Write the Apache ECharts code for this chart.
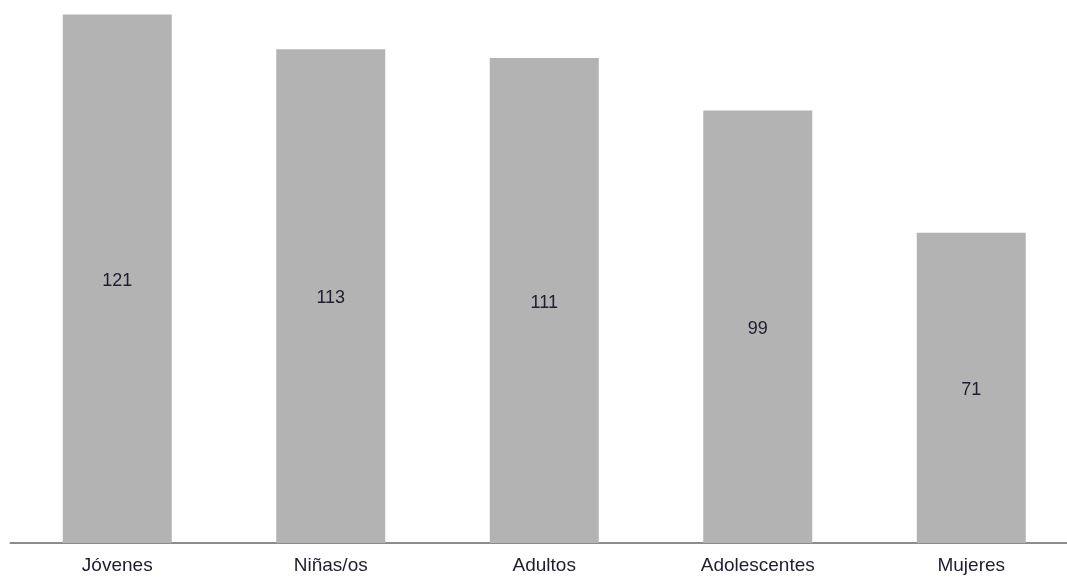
<!DOCTYPE html>
<html>
<head>
<meta charset="utf-8">
<script src="https://cdn.jsdelivr.net/npm/echarts@6/dist/echarts.min.js"></script>
<style>html,body{margin:0;padding:0;background:#fff;overflow:hidden;width:1067px;height:577px;}#c{width:1078px;height:577px;}</style>
</head>
<body>
<div id="c"></div>
<script>
const categories = ["Jóvenes", "Niñas/os", "Adultos", "Adolescentes", "Mujeres"];
const values = [121, 113, 111, 99, 71];

const chart = echarts.init(document.getElementById('c'));
chart.setOption({
  animation: false,
  backgroundColor: '#ffffff',
  grid: { left: 10.5, right: 0, top: 0, bottom: 34, containLabel: false },
  xAxis: {
    type: 'category',
    data: categories,
    axisLine: { lineStyle: { color: '#8c8c8c', width: 2 } },
    axisTick: { show: false },
    axisLabel: { color: '#1e1e30', fontSize: 19, fontFamily: 'Liberation Sans, Arial, sans-serif', margin: 13 }
  },
  yAxis: {
    type: 'value', min: 0, max: 124.3,
    show: false, splitLine: { show: false }
  },
  series: [{
    type: 'bar',
    data: values,
    barWidth: 109,
    itemStyle: { color: '#b3b3b3' },
    label: { show: true, position: 'inside', offset: [0, 2], color: '#1e1e30', fontSize: 18, fontFamily: 'Liberation Sans, Arial, sans-serif' }
  }]
});
</script>
</body>
</html>
